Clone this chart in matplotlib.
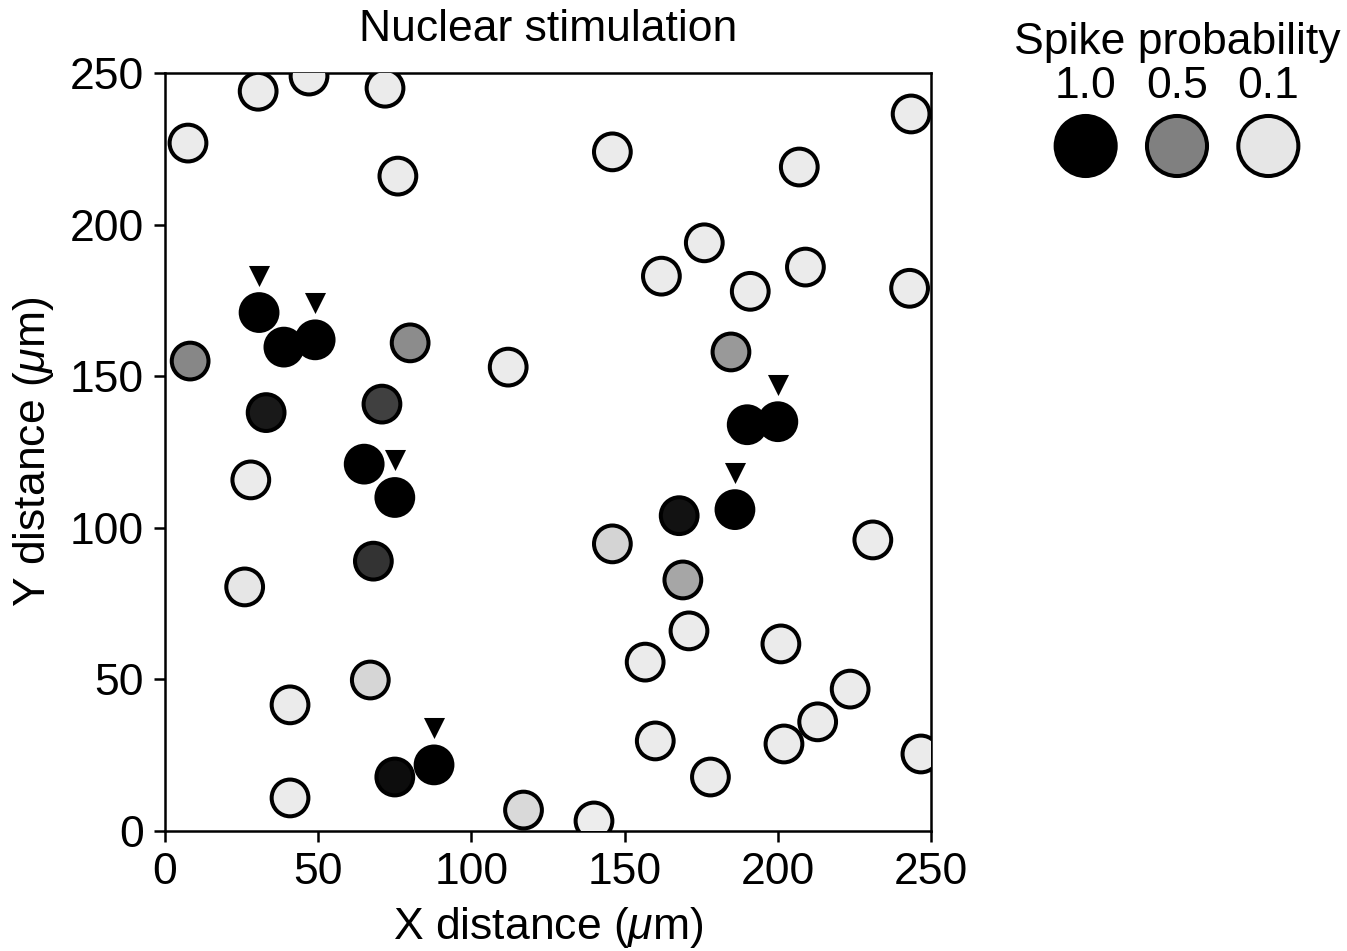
import numpy as np
import matplotlib.pyplot as plt

plt.rcParams['font.family'] = ['Liberation Sans', 'DejaVu Sans']
plt.rcParams['mathtext.fontset'] = 'custom'
plt.rcParams['mathtext.it'] = 'Liberation Sans:italic'
plt.rcParams['mathtext.rm'] = 'Liberation Sans'

# cell positions (um) and spike probability
x_pos = [7.5, 30.4, 47, 71.8, 76, 146, 243.5, 207, 176, 162, 209, 191, 243,
         30.7, 38.8, 49, 8.2, 80, 112, 184.7, 33, 70.8, 190, 200, 28, 65, 75,
         167.8, 186, 146, 231, 26, 68, 169, 171, 156.7, 201, 67, 40.8, 223.6,
         213, 160, 202, 246.7, 178, 40.8, 75, 87.8, 117, 140]
y_pos = [226.9, 244, 249, 245, 216, 224, 236.5, 219, 194, 183, 186, 178, 179,
         171, 159.6, 162, 155, 161, 153, 158, 138, 140.8, 134, 135, 115.8, 121, 110,
         104, 106, 94.7, 96, 80.5, 89, 82.8, 66, 55.7, 61.7, 49.8, 41.6, 46.8,
         36, 29.7, 28.7, 25.4, 17.8, 10.9, 17.8, 21.8, 6.9, 3.3]
spike_prob = [0.08, 0.08, 0.08, 0.08, 0.08, 0.08, 0.08, 0.08, 0.08, 0.08, 0.08, 0.08, 0.08,
              1.0, 1.0, 1.0, 0.47, 0.45, 0.08, 0.4, 0.9, 0.75, 1.0, 1.0, 0.08, 1.0, 1.0,
              0.93, 1.0, 0.17, 0.08, 0.1, 0.8, 0.35, 0.08, 0.08, 0.08, 0.16, 0.08, 0.08,
              0.08, 0.08, 0.08, 0.08, 0.08, 0.08, 0.95, 1.0, 0.15, 0.07]
# stimulated cells (marked with a triangle)
stim_idx = [13, 15, 23, 26, 28, 47]

legend_prob = [1.0, 0.5, 0.1]
legend_labels = ['1.0', '0.5', '0.1']

FS = 32

fig = plt.figure(figsize=(13.47, 9.51), dpi=100)
ax = fig.add_axes([0.1225, 0.1262, 0.5687, 0.797])

x_pos = np.array(x_pos)
y_pos = np.array(y_pos)
spike_prob = np.array(spike_prob)
colors = [str(1 - p) for p in spike_prob]

ax.scatter(x_pos, y_pos, s=700, c=colors, edgecolors='k', linewidths=2.9, zorder=3)
ax.scatter(x_pos[stim_idx], y_pos[stim_idx] + 12.2, s=230, marker='v', c='k',
           linewidths=0, zorder=4)

ax.set_xlim(0, 250)
ax.set_ylim(0, 250)
ax.set_xticks([0, 50, 100, 150, 200, 250])
ax.set_yticks([0, 50, 100, 150, 200, 250])
ax.tick_params(labelsize=FS, width=1.8, length=8, direction='out', pad=7)
for sp in ax.spines.values():
    sp.set_linewidth(1.8)
ax.set_xlabel(r'X distance ($\mu$m)', fontsize=FS, labelpad=9)
ax.set_ylabel(r'Y distance ($\mu$m)', fontsize=FS, labelpad=10)
ax.set_title('Nuclear stimulation', fontsize=FS, pad=23)

# legend drawn in its own axes
lax = fig.add_axes([1040 / 1347, 1 - 180 / 951, 274 / 1347, 170 / 951])
lax.set_xlim(-0.5, 2.5)
lax.set_ylim(0, 170)
lax.axis('off')
lx = np.arange(len(legend_prob))
lax.scatter(lx, [34] * len(lx), s=1870, c=[str(1 - p) for p in legend_prob],
            edgecolors='k', linewidths=2.9, clip_on=False)
for i, lab in enumerate(legend_labels):
    lax.text(lx[i], 93, lab, fontsize=FS, ha='center', va='center')
lax.text(1, 137, 'Spike probability', fontsize=FS, ha='center', va='center')

fig.savefig('out.png', dpi=100)
